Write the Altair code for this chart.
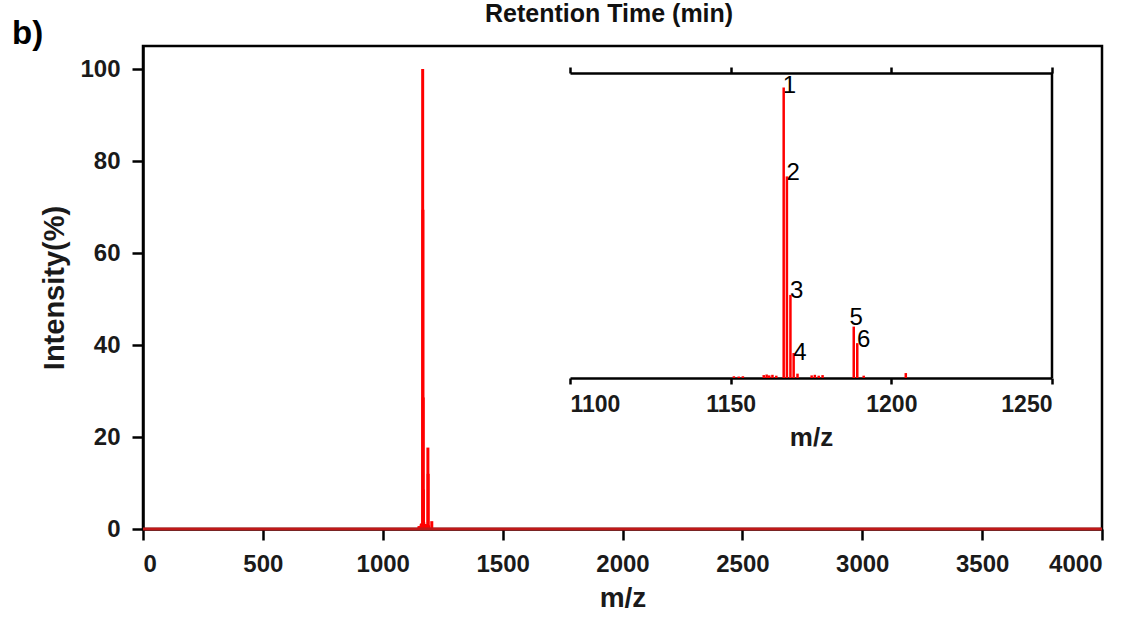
import altair as alt
import pandas as pd

# ---- data ----
mz = [1151.0, 1152.5, 1153.8, 1160.3, 1161.2, 1162.0, 1163.0, 1164.2,
      1166.5, 1167.5, 1168.6, 1169.6, 1170.8, 1175.2, 1176.2, 1177.4,
      1178.6, 1188.3, 1189.4, 1191.4, 1204.5]
intensity = [0.6, 0.5, 0.6, 1.0, 1.2, 0.9, 1.1, 0.8,
             100.0, 69.4, 28.6, 8.6, 1.5, 0.9, 1.1, 0.8,
             1.0, 17.7, 12.0, 0.8, 1.7]

peak_labels = ["1", "2", "3", "4", "5", "6"]
label_mz = [1166.2, 1167.35, 1168.45, 1169.5, 1187.0, 1189.3]
label_int = [98.2, 68.3, 27.5, 6.2, 18.3, 10.8]

main_x_ticks = [0, 500, 1000, 1500, 2000, 2500, 3000, 3500, 4000]
main_y_ticks = [0, 20, 40, 60, 80, 100]
inset_x_ticks = [1100, 1150, 1200, 1250]
inset_y_ticks = [0, 20, 40, 60, 80, 100]
baseline_start = [0]
baseline_end = [4000]

sticks = pd.DataFrame({"mz": mz, "intensity": intensity, "zero": [0.0] * len(mz)})
labels = pd.DataFrame({"mz": label_mz, "intensity": label_int, "label": peak_labels})
baseline = pd.DataFrame({"mz": baseline_start, "mz_end": baseline_end, "intensity": [0.0]})
frame_right = pd.DataFrame({"mz": [1250], "intensity": [0.0], "top": [105.0]})
annot = pd.DataFrame({"t": ["b)"]})
top_title = pd.DataFrame({"t": ["Retention Time (min)"]})

FONT = "Liberation Sans"
RED = "#ff0000"

# ---- main spectrum ----
x_main = alt.X("mz:Q",
               scale=alt.Scale(domain=[0, 4000], nice=False, zero=False),
               axis=alt.Axis(orient="bottom", values=main_x_ticks, title="m/z", format="d",
                             tickSize=11, labelPadding=12, labelFontSize=24,
                             titleFontSize=28, titlePadding=8))
y_main = alt.Y("intensity:Q",
               scale=alt.Scale(domain=[0, 105], nice=False),
               axis=alt.Axis(orient="left", values=main_y_ticks, title="Intensity(%)", format="d",
                             tickSize=11, labelPadding=12, labelFontSize=24,
                             titleFontSize=29, titlePadding=10))

main_sticks = alt.Chart(sticks).mark_rule(color=RED, strokeWidth=3).encode(
    x=x_main, y=y_main, y2="zero:Q")
main_base = alt.Chart(baseline).mark_rule(color="#c01818", strokeWidth=3).encode(
    x=x_main, x2="mz_end:Q", y=y_main)
panel_label = alt.Chart(annot).mark_text(
    align="left", baseline="alphabetic", fontSize=33, fontWeight="bold",
    font=FONT, color="black").encode(
    x=alt.value(-131), y=alt.value(-2), text="t:N")
title_text = alt.Chart(top_title).mark_text(
    align="left", baseline="alphabetic", fontSize=25, fontWeight="bold",
    font=FONT, color="#111").encode(
    x=alt.value(342), y=alt.value(-24), text="t:N")

main = alt.layer(main_sticks, main_base, panel_label, title_text)

# ---- inset (zoom 1100-1250) ----
in_xscale = alt.Scale(domain=[1100, 1250], range=[427, 909], nice=False, zero=False)
in_yscale = alt.Scale(domain=[0, 105], range=[332, 27], nice=False)

x_in = alt.X("mz:Q", scale=in_xscale,
             axis=alt.Axis(orient="bottom", offset=-151, values=inset_x_ticks, format="d",
                           title="m/z", tickSize=6, labelPadding=9,
                           labelFontSize=23, titleFontSize=26, titlePadding=8))
y_in = alt.Y("intensity:Q", scale=in_yscale,
             axis=alt.Axis(orient="left", offset=-427, values=inset_y_ticks,
                           labels=False, title="", tickSize=6))

inset_sticks = alt.Chart(sticks).mark_rule(color=RED, strokeWidth=2.5).encode(
    x=x_in, y=y_in, y2="zero:Q")
inset_labels = alt.Chart(labels).mark_text(
    align="left", baseline="alphabetic", fontSize=24, font=FONT, color="black").encode(
    x=alt.X("mz:Q", scale=in_xscale, axis=None),
    y=alt.Y("intensity:Q", scale=in_yscale, axis=None),
    text="label:N")
inset_frame = alt.Chart(frame_right).mark_rule(color="black", strokeWidth=2.5).encode(
    x=alt.X("mz:Q", scale=in_xscale,
            axis=alt.Axis(orient="top", offset=-27, values=inset_x_ticks,
                          labels=False, title="", tickSize=6)),
    y=alt.Y("intensity:Q", scale=in_yscale, axis=None),
    y2="top:Q")

inset = alt.layer(inset_sticks, inset_labels, inset_frame)

chart = alt.layer(main, inset).resolve_scale(
    x="independent", y="independent"
).properties(
    width=959, height=483,
    autosize=alt.AutoSizeParams(type="none"),
    padding={"left": 143, "top": 46, "right": 34, "bottom": 88},
    background="white",
).configure_view(
    stroke="black", strokeWidth=2.5
).configure_axis(
    grid=False, domainColor="black", domainWidth=2.5, tickColor="black",
    tickWidth=2.5, labelFont=FONT, labelFontWeight="bold", labelColor="#1a1a1a",
    titleFont=FONT, titleFontWeight="bold", titleColor="#1a1a1a"
)

chart.save("out.html", embed_options={"renderer": "svg", "actions": False})
